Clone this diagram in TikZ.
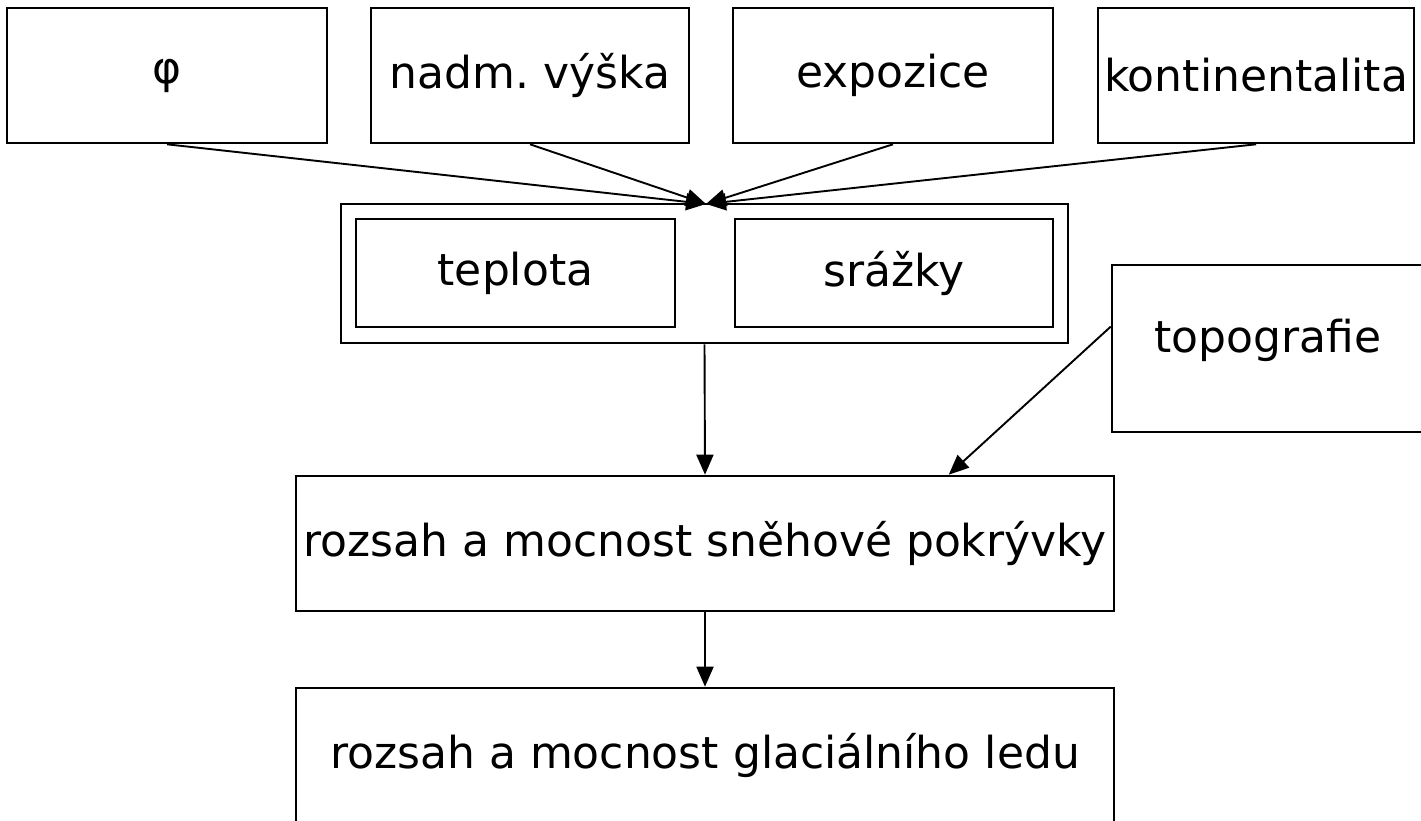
\documentclass[tikz,border=0pt]{standalone}
\usepackage{fontspec}
\setmainfont{DejaVu Sans}
\usetikzlibrary{arrows.meta,calc}
\begin{document}
\frenchspacing
\begin{tikzpicture}[x=1pt,y=-1pt,
  box/.style={draw,line width=2.6pt,rectangle,inner sep=0pt,font=\fontsize{44}{50}\selectfont},
  conn/.style={line width=1.9pt,-{Triangle[length=20pt,width=17pt]}}]
\useasboundingbox (0,0) rectangle (1421,821);
\clip (0,0) rectangle (1421,821);
\node[box,minimum width=320pt,minimum height=135pt] (phi) at (167,75.5) {φ};
\node[box,minimum width=318pt,minimum height=135pt] (nadm) at (530,75.5) {nadm.\ výška};
\node[box,minimum width=320pt,minimum height=135pt] (expo) at (893,75.5) {expozice};
\node[box,minimum width=316pt,minimum height=135pt] (kont) at (1256,75.5) {kontinentalita};
\node[box,minimum width=727pt,minimum height=139pt] (outer) at (704.5,273.5) {};
\node[box,minimum width=319pt,minimum height=108pt] (tep) at (515.5,273) {teplota};
\node[box,minimum width=318pt,minimum height=108pt] (sra) at (894,273) {srážky};
\node[box,minimum width=320pt,minimum height=167pt] (topo) at (1272,348.5) {};
\node[font=\fontsize{44}{50}\selectfont] (topot) at (1268,340) {topografie};
\node[box,minimum width=818pt,minimum height=135pt] (snow) at (705,543.5) {rozsah a mocnost sněhové pokrývky};
\node[box,minimum width=818pt,minimum height=135pt] (glac) at (705,755.5) {rozsah a mocnost glaciálního ledu};
\coordinate (meet) at (706,204);
\draw[conn] (phi.south) -- (meet);
\draw[conn] (nadm.south) -- (meet);
\draw[conn] (expo.south) -- (meet);
\draw[conn] (kont.south) -- (meet);
\draw[conn] (outer.south) -- (snow.north);
\draw[conn] ($(topo.north west)!0.371!(topo.south west)$) -- ($(snow.north west)!0.797!(snow.north east)$);
\draw[conn] (snow.south) -- (glac.north);
\end{tikzpicture}
\end{document}
